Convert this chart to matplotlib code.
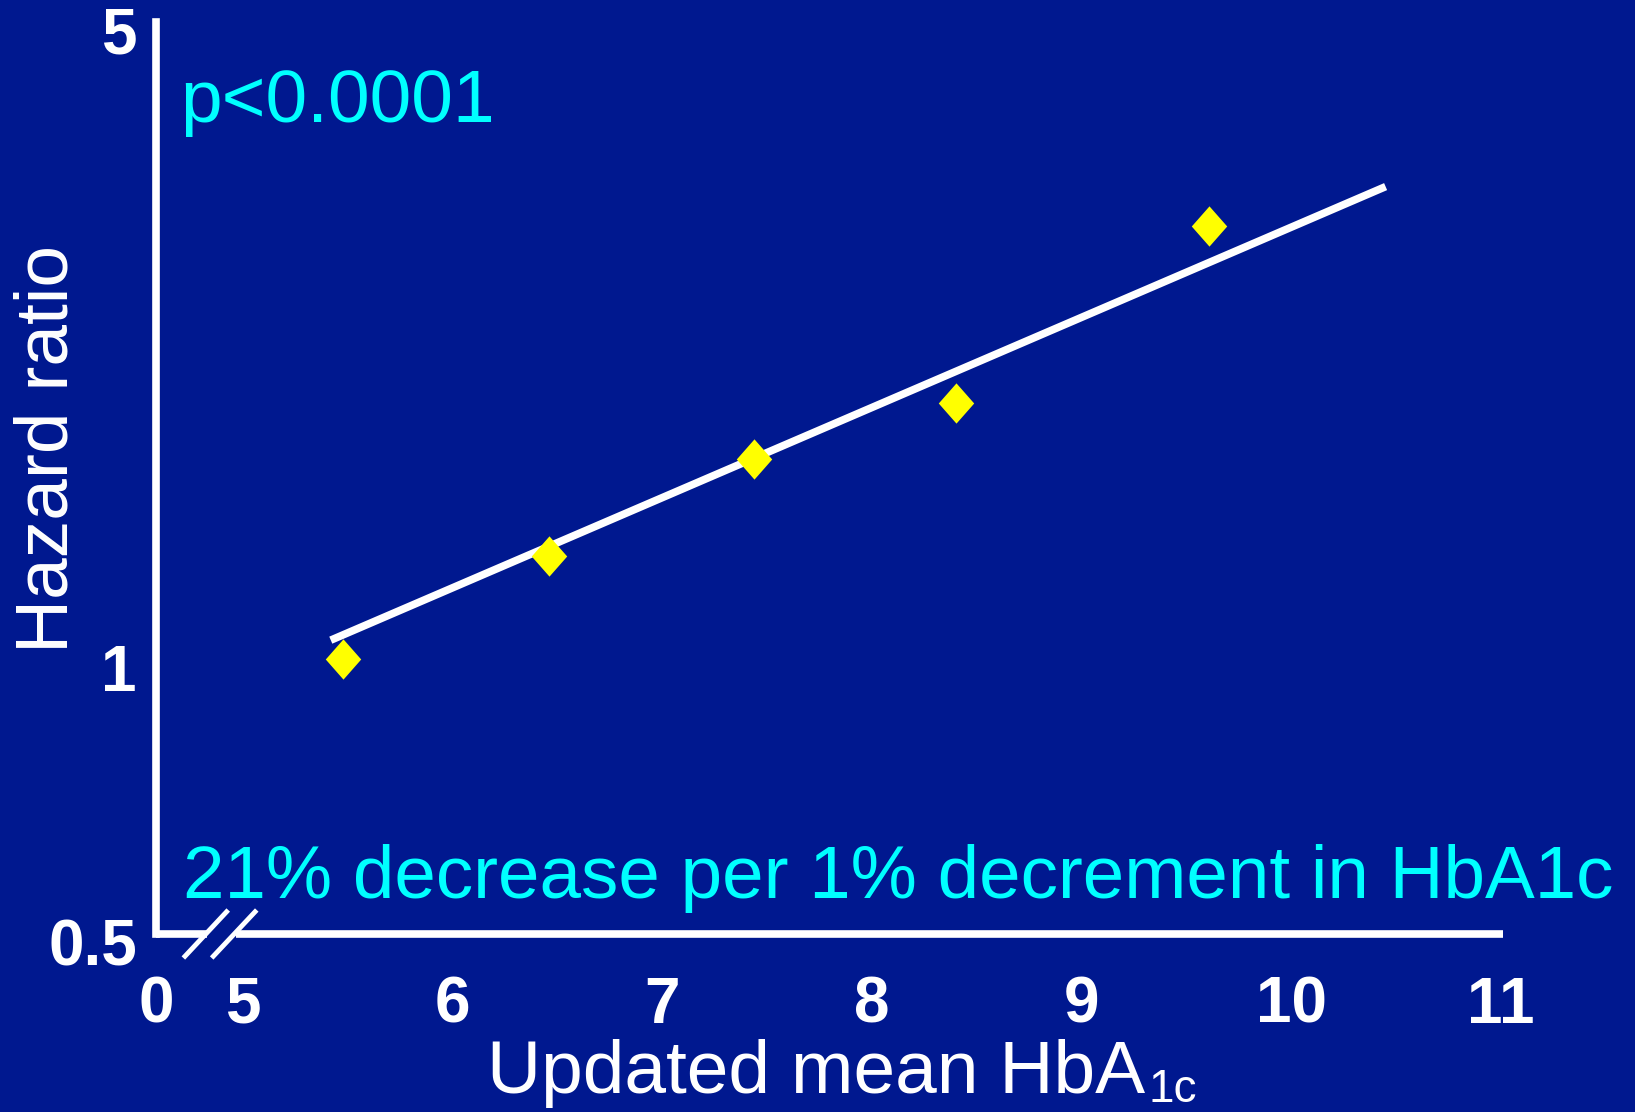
import matplotlib
matplotlib.use("Agg")
import matplotlib.pyplot as plt
from matplotlib.lines import Line2D
from matplotlib.transforms import ScaledTranslation
import matplotlib.ticker as mticker

# --- data ---
hba1c = [5.48, 6.46, 7.44, 8.40, 9.61]
hazard = [1.00, 1.30, 1.66, 1.91, 2.99]

# fitted log-linear line (two ends is enough on a log axis)
fit_x = [5.42, 10.45]
fit_y = [1.05, 3.30]

xtick_pos = [5, 6, 7, 8, 9, 10, 11]
xtick_lab = ["5", "6", "7", "8", "9", "10", "11"]
ytick_pos = [0.5, 1, 5]
ytick_lab = ["0.5", "1", "5"]

BG = "#00188F"
CYAN = "#00FFFF"
YELLOW = "#FFFF00"

plt.rcParams["font.family"] = ["Liberation Sans", "DejaVu Sans"]

fig = plt.figure(figsize=(16.35, 11.12), dpi=100, facecolor=BG)
ax = fig.add_axes([0.0956, 0.16007, 0.8237, 0.8201])
ax.set_facecolor(BG)

xmin, xmax = 4.588, 11.01
ax.set_xlim(xmin, xmax)
ax.set_yscale("log")
ax.set_ylim(0.5, 5)

# fit line and points
ax.plot(fit_x, fit_y, color="white", lw=5.5, solid_capstyle="butt", zorder=2)
diamond = [(0, 1), (0.88, 0), (0, -1), (-0.88, 0), (0, 1)]
ax.plot(hba1c, hazard, linestyle="none", marker=diamond, markersize=29,
        color=YELLOW, markeredgewidth=0, zorder=3)

# axes: left spine only, bottom line drawn by hand with a break
for s in ["top", "right", "bottom"]:
    ax.spines[s].set_visible(False)
ax.spines["left"].set_color("white")
ax.spines["left"].set_linewidth(5.5)
ax.spines["left"].set_capstyle("projecting")

trans = ax.get_xaxis_transform()
gap_l, gap_r = 4.832, 4.968
for x0, x1 in [(xmin, gap_l), (gap_r, xmax)]:
    ax.add_line(Line2D([x0, x1], [0, 0], transform=trans, color="white",
                       lw=5.5, solid_capstyle="butt", clip_on=False))
dy = 24 / 912.0
for x0, x1 in [(4.717, 4.931), (4.852, 5.067)]:
    ax.add_line(Line2D([x0, x1], [-dy, dy], transform=trans, color="white",
                       lw=3.5, solid_capstyle="butt", clip_on=False))

# ticks
ax.set_xticks([xmin] + xtick_pos)
ax.set_xticklabels(["0"] + xtick_lab)
ax.yaxis.set_major_locator(mticker.FixedLocator(ytick_pos))
ax.yaxis.set_minor_locator(mticker.NullLocator())
ax.set_yticklabels(ytick_lab)
ax.tick_params(axis="x", length=0, pad=30, labelsize=46, labelcolor="white")
ax.tick_params(axis="y", length=0, pad=14, labelsize=46, labelcolor="white")
for lab in ax.get_xticklabels() + ax.get_yticklabels():
    lab.set_fontweight("bold")
for lab in ax.get_yticklabels():
    lab.set_transform(lab.get_transform() +
                      ScaledTranslation(0, -8 / 100.0, fig.dpi_scale_trans))

# texts
fig.text(180 / 1635, 1 - 122 / 1112, "p<0.0001", color=CYAN, fontsize=54,
         va="baseline", ha="left")
fig.text(183 / 1635, 1 - 898 / 1112,
         "21% decrease per 1% decrement in HbA1c", color=CYAN, fontsize=53.7,
         va="baseline", ha="left")
fig.text(48 / 1635, 1 - 449 / 1112, "Hazard ratio", color="white",
         fontsize=54, rotation=90, ha="center", va="center")
fig.text(487 / 1635, 1 - 1093 / 1112, "Updated mean HbA",
         color="white", fontsize=54, ha="left", va="baseline")
fig.text(1148 / 1635, 1 - 1102 / 1112, "1c",
         color="white", fontsize=33, ha="left", va="baseline")

fig.savefig("out.png", dpi=100, facecolor=BG)
